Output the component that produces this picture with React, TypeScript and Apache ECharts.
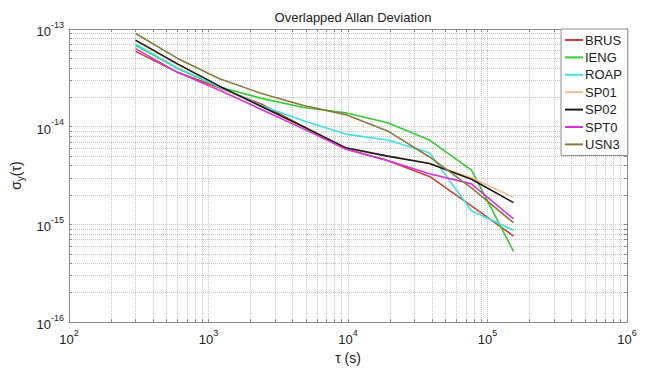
import React, { useEffect, useRef } from "react";
import * as echarts from "echarts";

const taus = [300, 600, 1200, 2400, 4800, 9600, 19200, 38400, 76800, 153600];
const seriesNames = ["BRUS", "IENG", "ROAP", "SP01", "SP02", "SPT0", "USN3"];
const BRUS = [5.9e-14, 3.6e-14, 2.5e-14, 1.7e-14, 1.0e-14, 5.9e-15, 4.5e-15, 3.1e-15, 1.55e-15, 7.6e-16];
const IENG = [6.8e-14, 3.95e-14, 2.55e-14, 1.95e-14, 1.57e-14, 1.39e-14, 1.1e-14, 7.3e-15, 3.6e-15, 5.3e-16];
const ROAP = [7.0e-14, 4.0e-14, 2.55e-14, 1.64e-14, 1.15e-14, 8.4e-15, 7.3e-15, 5.4e-15, 1.38e-15, 8.7e-16];
const SP01 = [7.6e-14, 4.3e-14, 2.6e-14, 1.6e-14, 1.0e-14, 6.1e-15, 5.0e-15, 4.2e-15, 3.0e-15, 1.9e-15];
const SP02 = [7.7e-14, 4.4e-14, 2.6e-14, 1.61e-14, 1.0e-14, 6.1e-15, 5.0e-15, 4.2e-15, 2.9e-15, 1.67e-15];
const SPT0 = [6.3e-14, 3.6e-14, 2.36e-14, 1.5e-14, 9.5e-15, 5.9e-15, 4.5e-15, 3.3e-15, 2.6e-15, 1.14e-15];
const USN3 = [9.0e-14, 5.0e-14, 3.1e-14, 2.19e-14, 1.65e-14, 1.33e-14, 9.05e-15, 4.9e-15, 2.36e-15, 1.04e-15];
const seriesValues = [BRUS, IENG, ROAP, SP01, SP02, SPT0, USN3];
const seriesColors = ["#c8403c", "#33cc33", "#40e0e8", "#f2c08c", "#1a1a1a", "#d633d6", "#8a7a3a"];

const xMajorTicks = [1e2, 1e3, 1e4, 1e5, 1e6];
const yMajorTicks = [1e-16, 1e-15, 1e-14, 1e-13];
const mantissas = [1, 2, 3, 4, 5, 6, 7, 8, 9];

function allTicks(majors: number[]): number[] {
  const out: number[] = [];
  majors.forEach((m, i) => {
    if (i === majors.length - 1) {
      out.push(m);
    } else {
      mantissas.forEach((k) => out.push(parseFloat((k * m).toPrecision(6))));
    }
  });
  return out;
}

const FONT = "'Liberation Sans', Arial, sans-serif";
const AXIS_COLOR = "#8a8a8a";

function powLabel(v: number): string {
  const e = Math.round(Math.log10(v));
  return "{b|10}{s|" + e + "}";
}

const richLabel = {
  b: { fontSize: 13, lineHeight: 18, color: "#222", fontFamily: FONT, verticalAlign: "bottom" },
  s: { fontSize: 9, lineHeight: 10, color: "#222", fontFamily: FONT, verticalAlign: "top" },
};

export default function App() {
  const ref = useRef<HTMLDivElement>(null);
  useEffect(() => {
    if (!ref.current) return;
    const chart = echarts.init(ref.current, null, { renderer: "svg" });
    const xTicks = allTicks(xMajorTicks);
    const yTicks = allTicks(yMajorTicks);
    const baseX = {
      type: "log",
      logBase: 10,
      min: 1e2,
      max: 1e6,
      axisLine: { show: true, lineStyle: { color: AXIS_COLOR, width: 1 } },
      axisTick: { show: true, inside: true, length: 3, customValues: xTicks, lineStyle: { color: AXIS_COLOR } },
      minorTick: { show: false },
    };
    const baseY = {
      type: "log",
      logBase: 10,
      min: 1e-16,
      max: 1e-13,
      axisLine: { show: true, lineStyle: { color: AXIS_COLOR, width: 1 } },
      axisTick: { show: true, inside: true, length: 3, customValues: yTicks, lineStyle: { color: AXIS_COLOR } },
      minorTick: { show: false },
    };
    chart.setOption({
      animation: false,
      backgroundColor: "#ffffff",
      textStyle: { fontFamily: FONT },
      title: {
        text: "Overlapped Allan Deviation",
        left: 348,
        textAlign: "center",
        top: 6,
        textStyle: { fontSize: 13, fontWeight: "normal", color: "#222", fontFamily: FONT },
      },
      grid: { left: 69, right: 25, top: 29, bottom: 41, containLabel: false },
      legend: {
        orient: "vertical",
        left: 561,
        top: 29,
        width: 66,
        padding: [4, 6, 4, 4],
        itemGap: 3.4,
        itemWidth: 18,
        itemHeight: 2,
        icon: "rect",
        backgroundColor: "#ffffff",
        borderColor: AXIS_COLOR,
        borderWidth: 1,
        borderRadius: 0,
        textStyle: { fontSize: 13, lineHeight: 14, color: "#222", fontFamily: FONT, padding: [0, 0, 0, -3] },
        data: seriesNames,
      },
      xAxis: [
        {
          ...baseX,
          position: "bottom",
          name: "τ (s)",
          nameLocation: "middle",
          nameGap: 28,
          nameTextStyle: { fontSize: 14, color: "#222", fontFamily: FONT },
          axisLabel: {
            show: true,
            margin: 6,
            customValues: xMajorTicks,
            formatter: (v: number) => powLabel(v),
            rich: richLabel,
          },
          splitLine: { show: true, lineStyle: { color: "#c4c4c4", type: "dotted", width: 1 } },
        },
        {
          ...baseX,
          position: "top",
          axisLabel: { show: false },
          splitLine: { show: false },
        },
      ],
      yAxis: [
        {
          ...baseY,
          position: "left",
          name: "{n|σ}{sub|y}{n|(τ)}",
          nameLocation: "middle",
          nameGap: 36,
          nameRotate: 90,
          nameTextStyle: {
            color: "#222",
            fontFamily: FONT,
            rich: {
              n: { fontSize: 14, lineHeight: 20, color: "#222", fontFamily: FONT },
              sub: { fontSize: 10, lineHeight: 10, color: "#222", fontFamily: FONT, verticalAlign: "bottom" },
            },
          },
          axisLabel: {
            show: true,
            margin: 5,
            customValues: yMajorTicks,
            formatter: (v: number) => powLabel(v),
            rich: richLabel,
          },
          splitLine: { show: true, lineStyle: { color: "#c4c4c4", type: "dotted", width: 1 } },
        },
        {
          ...baseY,
          position: "right",
          axisLabel: { show: false },
          splitLine: { show: false },
        },
      ],
      series: seriesNames.map((name, i) => ({
        name,
        type: "line",
        xAxisIndex: 0,
        yAxisIndex: 0,
        showSymbol: false,
        symbol: "none",
        lineStyle: { width: 1.6, color: seriesColors[i] },
        itemStyle: { color: seriesColors[i] },
        data: taus.map((t, j) => [t, seriesValues[i][j]]),
      })),
    });
    return () => chart.dispose();
  }, []);
  return (
    <div
      ref={ref}
      style={{ position: "absolute", left: 0, top: 0, width: 652, height: 370 }}
    />
  );
}
